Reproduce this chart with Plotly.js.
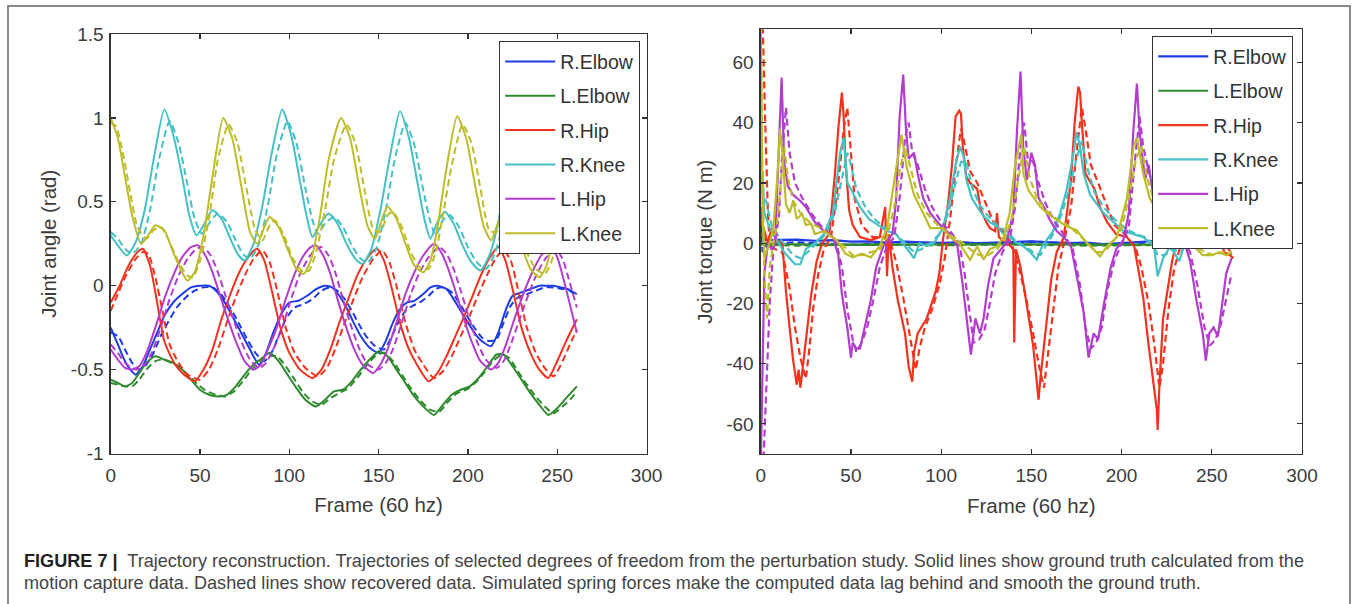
<!DOCTYPE html>
<html><head><meta charset="utf-8">
<script src="https://cdn.plot.ly/plotly-3.0.1.min.js"></script>
<style>html,body{margin:0;padding:0;background:#fff}#chart{width:1357px;height:604px}</style>
</head><body><div id="chart"></div>
<script>
// ---------- DATA ----------
const jointNames = ['R.Elbow','L.Elbow','R.Hip','R.Knee','L.Hip','L.Knee'];
const jointColors = ['#1f3be6','#2f8a2f','#f2321e','#45c0c4','#b23ccc','#bdbd2c'];
const xTicks = [0,50,100,150,200,250,300];
const xTickText = ['0','50','100','150','200','250','300'];
const angleTicks = [-1,-0.5,0,0.5,1,1.5];
const angleTickText = ['-1','-0.5','0','0.5','1','1.5'];
const torqueTicks = [-60,-40,-20,0,20,40,60];
const torqueTickText = ['-60','-40','-20','0','20','40','60'];

// Left panel: joint angle (rad) vs frame — [frame, value]
const angRElbowSolid = [[0,-0.25],[4,-0.35],[8,-0.45],[11,-0.50],[14,-0.53],[18,-0.48],[22,-0.38],[26,-0.28],[30,-0.18],[35,-0.10],[40,-0.05],[45,-0.01],[50,0.0],[55,0.0],[58,-0.02],[62,-0.07],[66,-0.14],[70,-0.22],[74,-0.30],[78,-0.38],[83,-0.47],[87,-0.40],[91,-0.28],[95,-0.18],[100,-0.10],[105,-0.09],[110,-0.06],[115,-0.02],[120,0.0],[124,-0.01],[128,-0.06],[132,-0.13],[136,-0.22],[140,-0.30],[145,-0.37],[150,-0.40],[154,-0.33],[158,-0.22],[162,-0.14],[166,-0.10],[170,-0.09],[175,-0.05],[179,-0.01],[183,0.0],[188,-0.02],[192,-0.08],[196,-0.15],[200,-0.22],[205,-0.30],[209,-0.34],[213,-0.36],[217,-0.28],[221,-0.15],[225,-0.06],[230,-0.04],[235,-0.02],[240,0.0],[244,0.0],[248,0.0],[252,-0.01],[256,-0.02],[261,-0.05]];
const angRElbowDash = [[0,-0.28],[4,-0.30],[8,-0.38],[12,-0.46],[16,-0.50],[20,-0.47],[24,-0.40],[28,-0.30],[32,-0.22],[37,-0.13],[42,-0.07],[47,-0.03],[52,-0.01],[57,-0.01],[61,-0.04],[65,-0.10],[69,-0.17],[73,-0.25],[77,-0.33],[81,-0.40],[86,-0.45],[90,-0.40],[94,-0.30],[98,-0.20],[103,-0.13],[108,-0.11],[113,-0.08],[118,-0.03],[123,-0.01],[127,-0.03],[131,-0.08],[135,-0.15],[139,-0.23],[143,-0.30],[148,-0.36],[153,-0.38],[157,-0.31],[161,-0.22],[165,-0.15],[169,-0.12],[173,-0.10],[178,-0.06],[182,-0.02],[186,-0.01],[191,-0.04],[195,-0.10],[199,-0.17],[203,-0.24],[208,-0.31],[212,-0.33],[216,-0.32],[220,-0.22],[224,-0.12],[228,-0.07],[233,-0.05],[238,-0.03],[243,-0.01],[248,-0.01],[253,-0.02],[257,-0.03],[261,-0.06]];
const angLElbowSolid = [[0,-0.56],[4,-0.58],[8,-0.60],[12,-0.58],[16,-0.52],[20,-0.46],[25,-0.42],[30,-0.44],[35,-0.46],[40,-0.50],[45,-0.56],[50,-0.62],[55,-0.65],[60,-0.66],[65,-0.65],[70,-0.60],[75,-0.53],[80,-0.47],[85,-0.43],[89,-0.40],[94,-0.45],[99,-0.53],[104,-0.61],[109,-0.68],[115,-0.72],[120,-0.68],[125,-0.63],[130,-0.62],[135,-0.57],[140,-0.50],[145,-0.44],[150,-0.39],[155,-0.42],[160,-0.50],[165,-0.58],[170,-0.66],[176,-0.73],[181,-0.77],[186,-0.71],[191,-0.65],[196,-0.62],[201,-0.60],[206,-0.55],[211,-0.48],[216,-0.41],[220,-0.41],[225,-0.48],[230,-0.56],[235,-0.64],[240,-0.71],[245,-0.77],[250,-0.73],[255,-0.67],[261,-0.60]];
const angLElbowDash = [[0,-0.58],[4,-0.59],[8,-0.60],[12,-0.60],[16,-0.56],[20,-0.50],[25,-0.45],[29,-0.44],[34,-0.46],[39,-0.49],[44,-0.54],[49,-0.59],[54,-0.63],[59,-0.65],[64,-0.66],[69,-0.63],[74,-0.57],[79,-0.50],[84,-0.45],[89,-0.42],[93,-0.42],[98,-0.48],[103,-0.56],[108,-0.64],[113,-0.69],[118,-0.71],[123,-0.67],[128,-0.64],[133,-0.61],[138,-0.55],[143,-0.48],[148,-0.42],[153,-0.40],[158,-0.45],[163,-0.53],[168,-0.61],[173,-0.68],[179,-0.74],[184,-0.75],[189,-0.69],[194,-0.64],[199,-0.62],[204,-0.58],[209,-0.52],[214,-0.45],[219,-0.41],[223,-0.43],[228,-0.51],[233,-0.59],[238,-0.66],[243,-0.72],[248,-0.76],[253,-0.72],[258,-0.67],[261,-0.63]];
const angRHipSolid = [[0,-0.10],[5,0.0],[10,0.12],[15,0.20],[18,0.22],[22,0.12],[26,-0.10],[30,-0.33],[35,-0.45],[40,-0.52],[47,-0.57],[52,-0.50],[57,-0.38],[62,-0.20],[67,-0.05],[72,0.08],[77,0.17],[82,0.22],[86,0.15],[90,-0.02],[95,-0.25],[100,-0.40],[106,-0.50],[113,-0.55],[118,-0.50],[123,-0.38],[128,-0.22],[133,-0.08],[138,0.06],[144,0.17],[149,0.22],[153,0.15],[157,0.0],[162,-0.22],[167,-0.38],[172,-0.48],[178,-0.57],[183,-0.52],[188,-0.42],[193,-0.30],[198,-0.18],[203,-0.05],[208,0.08],[213,0.18],[217,0.23],[221,0.15],[225,-0.02],[230,-0.25],[235,-0.40],[240,-0.50],[245,-0.55],[250,-0.45],[255,-0.33],[261,-0.20]];
const angRHipDash = [[0,-0.15],[4,-0.05],[9,0.07],[14,0.16],[18,0.20],[21,0.19],[25,0.05],[29,-0.15],[33,-0.35],[38,-0.46],[43,-0.53],[50,-0.56],[55,-0.50],[60,-0.38],[65,-0.22],[70,-0.07],[75,0.06],[80,0.16],[85,0.21],[89,0.14],[93,-0.02],[98,-0.25],[103,-0.40],[109,-0.49],[116,-0.54],[121,-0.49],[126,-0.37],[131,-0.22],[136,-0.08],[141,0.05],[147,0.16],[152,0.21],[156,0.14],[160,0.0],[165,-0.22],[170,-0.38],[175,-0.47],[181,-0.55],[186,-0.51],[191,-0.42],[196,-0.30],[201,-0.18],[206,-0.05],[211,0.07],[216,0.17],[220,0.21],[224,0.15],[228,-0.02],[233,-0.25],[238,-0.40],[243,-0.49],[248,-0.54],[253,-0.45],[258,-0.33],[261,-0.26]];
const angRKneeSolid = [[0,0.30],[4,0.24],[9,0.18],[14,0.26],[19,0.45],[24,0.75],[30,1.05],[35,0.90],[40,0.65],[44,0.42],[48,0.30],[52,0.36],[57,0.45],[62,0.40],[67,0.28],[71,0.19],[75,0.15],[80,0.25],[85,0.48],[90,0.78],[96,1.05],[101,0.90],[106,0.62],[110,0.40],[113,0.29],[117,0.36],[122,0.43],[127,0.37],[132,0.25],[137,0.16],[141,0.13],[146,0.22],[151,0.45],[156,0.75],[162,1.04],[167,0.88],[172,0.60],[176,0.38],[179,0.28],[183,0.38],[187,0.44],[192,0.37],[197,0.24],[202,0.14],[207,0.09],[212,0.18],[217,0.38],[222,0.70],[228,1.03],[233,0.88],[238,0.60],[242,0.38],[245,0.28],[249,0.38],[253,0.44],[258,0.38],[261,0.33]];
const angRKneeDash = [[0,0.32],[4,0.28],[8,0.22],[12,0.19],[17,0.25],[22,0.45],[27,0.75],[33,0.98],[38,0.85],[43,0.60],[47,0.40],[51,0.31],[55,0.37],[60,0.43],[65,0.38],[70,0.27],[74,0.19],[78,0.16],[83,0.25],[88,0.48],[93,0.78],[99,0.98],[104,0.85],[109,0.58],[113,0.39],[116,0.31],[120,0.37],[125,0.41],[130,0.35],[135,0.24],[140,0.16],[144,0.14],[149,0.23],[154,0.45],[159,0.75],[165,0.97],[170,0.84],[175,0.57],[179,0.38],[182,0.30],[186,0.39],[190,0.42],[195,0.35],[200,0.23],[205,0.14],[210,0.10],[215,0.19],[220,0.38],[225,0.70],[231,0.97],[236,0.84],[241,0.57],[245,0.38],[248,0.30],[252,0.39],[256,0.42],[261,0.37]];
const angLHipSolid = [[0,-0.38],[4,-0.44],[8,-0.49],[12,-0.50],[16,-0.48],[20,-0.40],[25,-0.25],[30,-0.08],[35,0.06],[40,0.17],[45,0.23],[49,0.24],[53,0.18],[57,0.08],[61,-0.05],[65,-0.18],[70,-0.33],[75,-0.45],[80,-0.50],[84,-0.47],[88,-0.38],[93,-0.25],[98,-0.08],[103,0.07],[108,0.18],[112,0.23],[115,0.24],[119,0.18],[123,0.07],[127,-0.08],[131,-0.22],[136,-0.37],[141,-0.47],[147,-0.52],[151,-0.47],[155,-0.38],[160,-0.22],[165,-0.05],[170,0.08],[175,0.18],[181,0.25],[185,0.20],[189,0.10],[193,-0.03],[197,-0.17],[202,-0.33],[207,-0.45],[213,-0.50],[217,-0.46],[221,-0.36],[226,-0.20],[231,-0.05],[236,0.08],[241,0.18],[246,0.24],[250,0.17],[254,0.02],[258,-0.15],[261,-0.28]];
const angLHipDash = [[0,-0.35],[4,-0.40],[8,-0.46],[12,-0.49],[15,-0.50],[19,-0.47],[23,-0.40],[28,-0.25],[33,-0.08],[38,0.06],[43,0.16],[48,0.22],[52,0.23],[56,0.18],[60,0.08],[64,-0.05],[68,-0.18],[73,-0.33],[78,-0.44],[83,-0.49],[87,-0.46],[91,-0.38],[96,-0.25],[101,-0.08],[106,0.07],[111,0.17],[115,0.22],[118,0.23],[122,0.18],[126,0.07],[130,-0.08],[134,-0.22],[139,-0.37],[144,-0.47],[150,-0.50],[154,-0.46],[158,-0.38],[163,-0.22],[168,-0.05],[173,0.08],[178,0.17],[184,0.23],[188,0.19],[192,0.10],[196,-0.03],[200,-0.17],[205,-0.33],[210,-0.44],[216,-0.49],[220,-0.45],[224,-0.35],[229,-0.20],[234,-0.05],[239,0.08],[244,0.17],[249,0.22],[253,0.16],[257,0.02],[261,-0.13]];
const angLKneeSolid = [[0,1.0],[4,0.88],[8,0.65],[12,0.42],[17,0.25],[21,0.30],[25,0.36],[30,0.33],[35,0.20],[40,0.08],[43,0.03],[47,0.08],[52,0.30],[57,0.65],[63,1.0],[68,0.88],[73,0.60],[78,0.32],[82,0.25],[86,0.35],[89,0.41],[94,0.35],[99,0.22],[104,0.10],[108,0.07],[112,0.15],[117,0.40],[122,0.75],[129,1.0],[134,0.88],[139,0.60],[144,0.35],[148,0.28],[152,0.40],[155,0.47],[160,0.40],[165,0.25],[170,0.12],[175,0.08],[179,0.15],[183,0.35],[188,0.70],[194,1.01],[199,0.88],[204,0.60],[209,0.35],[213,0.27],[217,0.38],[220,0.44],[225,0.38],[230,0.24],[235,0.10],[240,0.05],[244,0.12],[248,0.30],[253,0.60],[258,0.88],[261,0.98]];
const angLKneeDash = [[0,0.97],[3,0.95],[7,0.78],[11,0.55],[15,0.35],[20,0.28],[24,0.33],[28,0.35],[33,0.26],[38,0.14],[43,0.06],[46,0.05],[50,0.15],[55,0.40],[60,0.75],[66,0.96],[71,0.85],[76,0.58],[81,0.33],[85,0.27],[89,0.36],[92,0.39],[97,0.30],[102,0.16],[107,0.09],[111,0.09],[115,0.20],[120,0.45],[125,0.75],[132,0.96],[137,0.85],[142,0.58],[147,0.34],[151,0.32],[155,0.42],[158,0.44],[163,0.35],[168,0.20],[173,0.11],[178,0.10],[182,0.20],[186,0.42],[191,0.72],[197,0.96],[202,0.85],[207,0.58],[212,0.33],[216,0.32],[220,0.40],[223,0.42],[228,0.34],[233,0.20],[238,0.10],[243,0.07],[247,0.15],[251,0.35],[256,0.60],[261,0.85]];

// Right panel: joint torque (N m) vs frame — [frame, value]
const trqRElbowSolid = [[0,12],[0.5,6],[1,2],[3,1],[10,1],[20,1.2],[30,0.8],[40,1],[50,0.5],[60,0.6],[70,0.2],[80,0.5],[90,0.3],[100,0.1],[110,0.3],[120,0],[130,0.2],[140,0.4],[150,0.6],[160,0.3],[170,0],[180,0.2],[190,-0.3],[200,0],[210,0.5],[220,0.8],[230,0.5],[240,0.3],[250,0.2],[261,0]];
const trqRElbowDash = [[0,6],[1,-3],[3,-1],[10,0],[20,0.3],[30,0],[40,-0.5],[50,-0.6],[60,-0.3],[70,0],[80,0.4],[90,0],[100,-0.2],[110,0.2],[120,0],[130,-0.2],[140,0],[150,0.5],[160,0.3],[170,0],[180,-0.4],[190,-0.6],[200,-0.2],[210,0],[220,0.4],[230,0.2],[240,0],[250,0],[261,0]];
const trqLElbowSolid = [[0,0],[10,-0.3],[30,-0.5],[60,-0.6],[100,-0.4],[140,-0.5],[180,-0.6],[220,-0.5],[261,-0.4]];
const trqLElbowDash = [[0,-0.5],[20,-0.8],[60,-0.4],[100,-0.7],[140,-0.4],[180,-0.8],[220,-0.6],[261,-0.5]];
const trqRHipSolid = [[0,8],[2,4],[4,0],[6,5],[9,1],[12,0],[14,-16],[16,-28],[18,-39],[20,-47],[21,-42],[22,-48],[24,-37],[26,-28],[28,-17],[31,-6],[34,0],[38,3],[41,22],[43,38],[45,50],[46,42],[47,27],[49,11],[51,6],[55,2],[61,1],[66,2],[69,12],[70,-11],[71,3],[73,-8],[76,-19],[80,-30],[82,-41],[84,-46],[85,-36],[87,-30],[90,-27],[92,-25],[97,-16],[99,-10],[101,1],[104,14],[106,26],[108,42],[110,44],[111,43],[112,32],[114,22],[116,20],[118,19],[120,18],[122,11],[125,7],[127,5],[130,4],[131,10],[132,2],[134,1],[137,0],[140,-2],[140.5,-33],[141.5,-2],[144,-8],[146,-15],[148,-23],[151,-34],[154,-52],[155,-45],[157,-34],[159,-23],[161,-12],[164,-3],[168,2],[172,21],[174,40],[176,52],[177,50],[178,40],[180,23],[182,21],[185,18],[188,12],[192,7],[197,3],[203,2],[207,-1],[209,-8],[212,-18],[215,-34],[218,-47],[219.5,-55],[220,-62],[221,-47],[223,-25],[226,-13],[228,-6],[231,2],[235,15],[238,32],[241,45],[243,40],[246,22],[250,10],[254,2],[257,-3],[260,-4],[262,-5]];
const trqRHipDash = [[0,75],[1,75],[2.5,40],[4,10],[5,0],[8,-2],[12,-3],[16,-15],[19,-28],[22,-38],[25,-45],[27,-35],[29,-22],[32,-10],[35,-2],[39,2],[43,20],[46,38],[48,45],[50,30],[52,15],[56,6],[62,2],[68,2],[72,0],[75,-6],[79,-18],[83,-32],[86,-42],[88,-35],[91,-28],[95,-22],[99,-14],[102,-5],[105,8],[108,25],[111,38],[113,33],[116,24],[120,20],[124,14],[129,7],[134,4],[139,0],[143,-8],[147,-18],[151,-30],[154,-40],[157,-48],[159,-38],[162,-22],[165,-8],[168,0],[172,12],[175,30],[178,45],[180,38],[183,26],[187,20],[191,14],[196,6],[202,3],[208,-2],[211,-8],[215,-20],[218,-33],[221,-48],[223,-40],[226,-22],[229,-9],[233,0],[237,12],[241,32],[244,40],[247,25],[251,12],[256,2],[262,-5]];
const trqRKneeSolid = [[0,20],[1,24],[2,10],[5,5],[10,0],[13,-3],[16,-5],[19,-7],[22,-7],[25,-2],[30,0],[35,3],[40,10],[44,30],[46,35],[48,20],[50,18],[55,12],[60,8],[65,6],[70,4],[75,3],[80,-1],[85,-5],[88,0],[92,-1],[96,0],[101,5],[105,15],[108,26],[110.5,32],[112.4,29],[114,21],[117,15],[120,12],[123.5,9],[127,7],[131,5.5],[134.6,3],[138,2],[142,0],[145.6,-1],[149.4,-3],[153,-5.5],[156,-1],[158.6,1],[162,4],[166,10],[169.7,18],[173.4,30],[175,37],[177,32],[179,23],[182.6,16],[186.4,13],[190,10],[195.6,7],[201,4],[206.6,3],[212,2],[216,0],[218,-1],[220,-11],[223,-5],[227,-1],[232,-6],[236,2],[239,15],[242,35],[245,22],[249,14],[254,9],[258,6],[262,5]];
const trqRKneeDash = [[0,18],[3,14],[6,6],[10,2],[14,-1],[18,-4],[22,-5],[26,-3],[31,0],[36,3],[41,10],[45,22],[48,30],[50,26],[53,18],[58,12],[63,8],[69,5],[75,3],[80,0],[85,-3],[89,-2],[94,0],[99,3],[104,10],[108,20],[111,27],[114,27],[117,19],[121,13],[126,9],[131,6],[136,4],[141,1],[146,-1],[151,-3],[155,-4],[159,0],[163,4],[167,10],[171,18],[175,28],[178,34],[181,25],[185,17],[190,12],[196,8],[202,5],[208,3],[213,2],[217,0],[220,-4],[224,-4],[228,-2],[233,-3],[237,2],[241,15],[244,30],[247,22],[252,13],[257,8],[262,6]];
const trqLHipSolid = [[0,-75],[1,-45],[2,-10],[4,0],[6,-2],[8,0],[10,30],[11.6,55],[13,27],[15,19],[18,16],[22,14],[25,12],[30,7],[35,4],[40,2],[43,-4],[45,-17],[48,-28],[50,-38],[51,-33],[53,-35],[55,-35],[57,-30],[61,-19],[64,-8],[68,-1],[73,3],[75,14],[77,42],[79,56],[80.5,38],[82,28],[85,30],[87,23],[90,15],[94,10],[98,7],[101,5],[105,3],[109,-1],[112,-14],[115,-30],[116.5,-37],[119,-25],[121.5,-30],[123.5,-25],[126,-14],[129,-5],[133,-2],[136,0],[140,10],[142,37],[144,57],[145.5,32],[147.5,21],[150,30],[152,26],[154,15],[157,12],[160,8],[164,4],[168,2],[172,-1],[175,-10],[179,-23],[181.7,-38],[184.5,-30],[187,-32],[190,-21],[194,-8],[197,-2],[201,1],[204,10],[206.5,37],[208.5,53],[210,37],[213,21],[215,26],[217,18],[220,13],[225,8],[230,4],[235,0],[238,-6],[241.5,-19],[245,-30],[246.7,-39],[248.6,-30],[251,-28],[253.4,-31],[256,-19],[258,-10],[261,-5]];
const trqLHipDash = [[0,-75],[1.5,-72],[3,-50],[5,-20],[7,-2],[10,8],[12,30],[14,45],[16,30],[19,20],[23,15],[28,10],[33,6],[38,3],[42,0],[45,-8],[48,-22],[51,-32],[53,-36],[56,-33],[59,-28],[62,-20],[66,-8],[70,-1],[74,2],[77,15],[80,35],[82,40],[84,30],[87,26],[91,18],[95,12],[100,7],[105,4],[110,0],[113,-10],[116,-24],[118,-33],[121,-32],[124,-29],[127,-20],[130,-10],[134,-3],[138,1],[141,12],[144,32],[146,40],[148,28],[151,27],[154,20],[158,13],[163,7],[168,3],[173,-2],[177,-14],[180,-28],[183,-35],[186,-33],[189,-28],[192,-16],[196,-6],[200,0],[204,5],[207,25],[210,42],[212,32],[215,24],[219,16],[224,10],[229,5],[234,1],[238,-3],[242,-14],[246,-28],[249,-34],[252,-32],[255,-27],[258,-18],[261,-10]];
const trqLKneeSolid = [[0,75],[1,10],[2,-5],[3,-3],[5,0],[7,5],[9,20],[10.7,38],[12,30],[14,13],[16,10],[18,14],[20,8],[23,9.7],[25,6],[28,6.4],[30,3],[35,4],[42,1],[47,-3.5],[51,-4.7],[56,-3.5],[61,-4.7],[66,-1],[70,5],[74,20],[76,28],[78,36],[81,25],[85,16],[90,10],[94,5],[98,5],[101,5],[105,2],[110,0],[116,-5.5],[120,-1],[123.5,-5.5],[127,-2],[131,-1],[134.6,2],[138,10],[141,26],[143.4,33],[144.5,36],[145.6,23],[148.4,17.6],[151,15.4],[155,12],[158.6,10],[164,7.7],[169.7,5.5],[175,4.4],[180.8,0],[184.5,-2],[188,-4.4],[192,-1],[197.4,2],[203,15],[206.6,32],[208.5,35],[210,30],[212,23],[215.6,15],[220,10],[225,6],[230,4],[235,2],[240,-1],[245,-4],[250,-4],[254,-3],[258,-4],[261,-3]];
const trqLKneeDash = [[0,75],[0.8,30],[2,-10],[3.5,-25],[5,-8],[7,0],[9,6],[11,18],[13,32],[15,22],[18,14],[22,10],[27,7],[33,5],[40,2],[46,-1],[51,-4],[56,-4],[61,-3],[66,-2],[70,2],[74,12],[77,24],[80,32],[83,25],[87,16],[92,10],[98,6],[104,3],[110,1],[116,-2],[121,-4],[126,-4],[131,-2],[135,1],[139,8],[143,22],[146,32],[149,22],[153,15],[158,11],[164,8],[170,6],[176,3],[181,0],[186,-3],[190,-3],[195,0],[200,5],[204,15],[208,28],[211,32],[214,22],[218,14],[224,8],[230,5],[236,2],[241,-1],[246,-3],[251,-4],[256,-3],[261,-3]];

const angleSolid = [angRElbowSolid, angLElbowSolid, angRHipSolid, angRKneeSolid, angLHipSolid, angLKneeSolid];
const angleDash  = [angRElbowDash, angLElbowDash, angRHipDash, angRKneeDash, angLHipDash, angLKneeDash];
const torqueSolid = [trqRElbowSolid, trqLElbowSolid, trqRHipSolid, trqRKneeSolid, trqLHipSolid, trqLKneeSolid];
const torqueDash  = [trqRElbowDash, trqLElbowDash, trqRHipDash, trqRKneeDash, trqLHipDash, trqLKneeDash];

// ---------- LAYOUT HELPERS ----------
const W = 1357, H = 604;
const fx = v => v / W, fy = v => 1 - v / H;
const FONT = '"Liberation Sans", Arial, Helvetica, sans-serif';

function trace(points, i, dashed, xa, ya, leg, prefix, smooth) {
  return {
    type: 'scatter', mode: 'lines',
    x: points.map(p => p[0]), y: points.map(p => p[1]),
    xaxis: xa, yaxis: ya, legend: leg,
    name: jointNames[i], legendgroup: prefix + i, showlegend: !dashed,
    line: {color: jointColors[i], width: smooth ? 2 : 2.2, dash: dashed ? '7px,4px' : 'solid',
           shape: smooth ? 'spline' : 'linear', smoothing: 0.6},
    hoverinfo: 'skip'
  };
}
const traces = [];
for (let i = 0; i < 6; i++) {
  traces.push(trace(angleSolid[i], i, false, 'x', 'y', 'legend', 'a', true));
  traces.push(trace(angleDash[i], i, true, 'x', 'y', 'legend', 'a', true));
}
for (let i = 0; i < 6; i++) {
  traces.push(trace(torqueSolid[i], i, false, 'x2', 'y2', 'legend2', 't', false));
  traces.push(trace(torqueDash[i], i, true, 'x2', 'y2', 'legend2', 't', false));
}

const axisCommon = {
  showline: true, mirror: 'ticks', linecolor: '#333', linewidth: 1.3,
  ticks: 'inside', ticklen: 5, tickwidth: 1.2, tickcolor: '#333',
  showgrid: false, zeroline: false, fixedrange: true,
  tickfont: {family: FONT, size: 19, color: '#3c3c3c'}
};
const titleFont = {family: FONT, size: 20.5, color: '#3c3c3c'};
const legendCommon = {
  xanchor: 'left', yanchor: 'top', bgcolor: '#ffffff', bordercolor: '#333', borderwidth: 1.2,
  font: {family: FONT, size: 19.5, color: '#333'}, traceorder: 'grouped', tracegroupgap: 6, itemwidth: 50
};

const layout = {
  width: W, height: H, margin: {l: 0, r: 0, t: 0, b: 0},
  paper_bgcolor: '#fff', plot_bgcolor: '#fff', showlegend: true,
  xaxis: Object.assign({}, axisCommon, {domain: [fx(110.7), fx(646.5)], range: [0, 300], tickvals: xTicks, ticktext: xTickText, anchor: 'y',
    ticklabelstandoff: 4, title: {text: 'Frame (60 hz)', font: titleFont, standoff: 13}}),
  yaxis: Object.assign({}, axisCommon, {domain: [fy(453.5), fy(34)], range: [-1, 1.5], tickvals: angleTicks, ticktext: angleTickText, anchor: 'x',
    ticklabelstandoff: 2, title: {text: 'Joint angle (rad)', font: titleFont, standoff: 8}}),
  xaxis2: Object.assign({}, axisCommon, {domain: [fx(760.7), fx(1302)], range: [0, 300], tickvals: xTicks, ticktext: xTickText, anchor: 'y2',
    ticklabelstandoff: 4, title: {text: 'Frame (60 hz)', font: titleFont, standoff: 13}}),
  yaxis2: Object.assign({}, axisCommon, {domain: [fy(454), fy(29.3)], range: [-70, 71], tickvals: torqueTicks, ticktext: torqueTickText, anchor: 'x2',
    ticklabelstandoff: 2, title: {text: 'Joint torque (N m)', font: titleFont, standoff: 8}}),
  legend: Object.assign({}, legendCommon, {x: fx(499), y: fy(41)}),
  legend2: Object.assign({}, legendCommon, {x: fx(1152), y: fy(36)}),
  shapes: [{type: 'rect', xref: 'paper', yref: 'paper', x0: fx(8), x1: fx(1350), y0: -0.1, y1: fy(6),
            line: {color: '#666', width: 1.5}, fillcolor: 'rgba(0,0,0,0)'}],
  annotations: [
    {xref: 'paper', yref: 'paper', x: fx(22), y: fy(561), xanchor: 'left', yanchor: 'middle', showarrow: false,
     font: {family: FONT, size: 18.1, color: '#444'},
     text: '<b style="color:#222">FIGURE 7 |</b>  Trajectory reconstruction. Trajectories of selected degrees of freedom from the perturbation study. Solid lines show ground truth calculated from the'},
    {xref: 'paper', yref: 'paper', x: fx(22), y: fy(583), xanchor: 'left', yanchor: 'middle', showarrow: false,
     font: {family: FONT, size: 18.1, color: '#444'},
     text: 'motion capture data. Dashed lines show recovered data. Simulated spring forces make the computed data lag behind and smooth the ground truth.'}
  ]
};

Plotly.newPlot('chart', traces, layout, {staticPlot: true, displayModeBar: false});
</script>
</body></html>
